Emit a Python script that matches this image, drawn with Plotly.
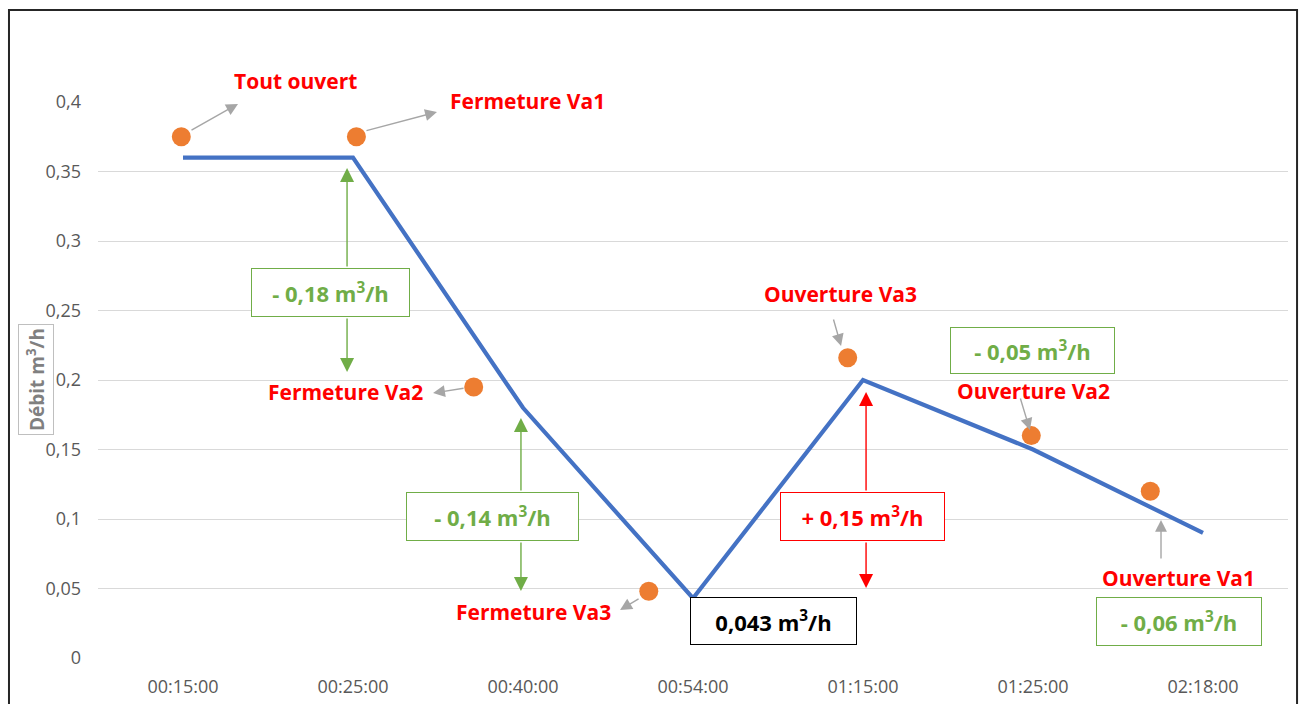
import plotly.graph_objects as go

# Débit mesuré à chaque horodatage
heures = ["00:15:00", "00:25:00", "00:40:00", "00:54:00", "01:15:00", "01:25:00", "02:18:00"]
debit = [0.36, 0.36, 0.18, 0.043, 0.20, 0.15, 0.09]

# Points repères des manœuvres de vannes (position en index d'horodatage)
repere_x = [-0.01, 1.02, 1.71, 2.74, 3.91, 4.99, 5.69]
repere_y = [0.375, 0.375, 0.195, 0.048, 0.216, 0.16, 0.12]

y_ticks = [0, 0.05, 0.1, 0.15, 0.2, 0.25, 0.3, 0.35, 0.4]
y_labels = ["0", "0,05", "0,1", "0,15", "0,2", "0,25", "0,3", "0,35", "0,4"]

FONT = "Open Sans"
RED = "#FF0000"
GREEN = "#70AD47"
GREY = "#A6A6A6"
idx = list(range(len(heures)))

fig = go.Figure()
fig.add_trace(go.Scatter(x=idx, y=debit, mode="lines",
                         line=dict(color="#4472C4", width=4.2),
                         hoverinfo="skip", showlegend=False))
fig.add_trace(go.Scatter(x=repere_x, y=repere_y, mode="markers",
                         marker=dict(color="#ED7D31", size=19),
                         hoverinfo="skip", showlegend=False))

ann = []

# Libellés des manœuvres (texte rouge)
def label(text, x, y, yref="y"):
    ann.append(dict(text=f"<b>{text}</b>", x=x, y=y, xref="x", yref=yref,
                    xanchor="center", yanchor="middle",
                    showarrow=False, font=dict(family=FONT, size=21, color=RED)))

label("Tout ouvert", 0.659, 1.0378, "paper")
label("Fermeture Va1", 2.029, 1.0018, "paper")
label("Fermeture Va2", 0.953, 0.1914)
label("Fermeture Va3", 2.059, 0.0331)
label("Ouverture Va3", 3.865, 0.2619)
label("Ouverture Va2", 5.0, 0.1921)
label("Ouverture Va1", 5.853, 0.0576)

# Flèches reliant repères et libellés
def arrow(x, y, ax, ay, color=GREY, size=1.7):
    ann.append(dict(text="", x=x, y=y, xref="x", yref="y", ax=ax, ay=ay,
                    showarrow=True, arrowhead=2, arrowsize=size, arrowwidth=1.4,
                    arrowcolor=color, standoff=0, startstandoff=0))

arrow(0.3235, 0.3986, -48, 27)
arrow(1.494, 0.3928, -72, 19)
arrow(1.471, 0.1906, 32, -5)
arrow(2.571, 0.0345, 20, -12)
arrow(3.871, 0.2245, -8, -28)
arrow(4.982, 0.164, -10, -33)
arrow(5.753, 0.0993, 0, 40)

# Flèches de variation verticales
arrow(0.965, 0.3525, 0, 100, GREEN, 2.0)
arrow(0.965, 0.2058, 0, -55, GREEN, 2.0)
arrow(1.988, 0.1727, 0, 74, GREEN, 2.0)
arrow(1.988, 0.0482, 0, -50, GREEN, 2.0)
arrow(4.018, 0.1914, 0, 100, RED, 2.0)
arrow(4.018, 0.0504, 0, -47, RED, 2.0)

# Encadrés de variation
def box(text, x, y, w, h, color):
    ann.append(dict(text=f"<b>{text}</b>", x=x, y=y, xref="x", yref="y",
                    xanchor="center", yanchor="middle",
                    showarrow=False, width=w - 2, height=h - 2,
                    bordercolor=color, borderwidth=1, borderpad=0,
                    bgcolor="white",
                    font=dict(family=FONT, size=22, color=color)))

box("- 0,18 m<sup>3</sup>/h", 0.868, 0.263, 159, 49, GREEN)
box("- 0,14 m<sup>3</sup>/h", 1.821, 0.1018, 173, 49, GREEN)
box("+ 0,15 m<sup>3</sup>/h", 3.997, 0.1018, 165, 49, RED)
box("- 0,05 m<sup>3</sup>/h", 4.997, 0.2212, 165, 47, GREEN)
box("0,043 m<sup>3</sup>/h", 3.474, 0.0266, 167, 48, "#000000")
box("- 0,06 m<sup>3</sup>/h", 5.859, 0.0263, 166, 49, GREEN)

# Titre de l'axe vertical encadré
ann.append(dict(text="<b>Débit m<sup>3</sup>/h</b>", x=-0.0521, y=0.2,
                xref="paper", yref="y", xanchor="center", yanchor="middle",
                textangle=-90, showarrow=False,
                bordercolor="#BFBFBF", borderwidth=1, borderpad=3,
                font=dict(family=FONT, size=19, color="#808080")))

fig.update_layout(
    width=1303, height=704,
    margin=dict(l=98, r=15, t=102, b=46),
    paper_bgcolor="white", plot_bgcolor="white",
    annotations=ann,
    shapes=[dict(type="rect", xref="paper", yref="paper",
                 x0=-0.0748, x1=1.0076, y0=-0.12, y1=1.1655,
                 line=dict(color="#262626", width=2), layer="above")],
    xaxis=dict(range=[-0.5, 6.5], tickvals=idx, ticktext=heures,
               showgrid=False, zeroline=False, showline=False,
               ticks="", ticklabelstandoff=16, automargin=False,
               tickfont=dict(family=FONT, size=18, color="#595959")),
    yaxis=dict(range=[0, 0.4], tickvals=y_ticks, ticktext=y_labels,
               showgrid=True, gridcolor="#D9D9D9", gridwidth=1,
               zeroline=False, showline=False, ticks="",
               ticklabelstandoff=16, automargin=False,
               tickfont=dict(family=FONT, size=18, color="#595959")),
)

fig.write_html("out.html")
